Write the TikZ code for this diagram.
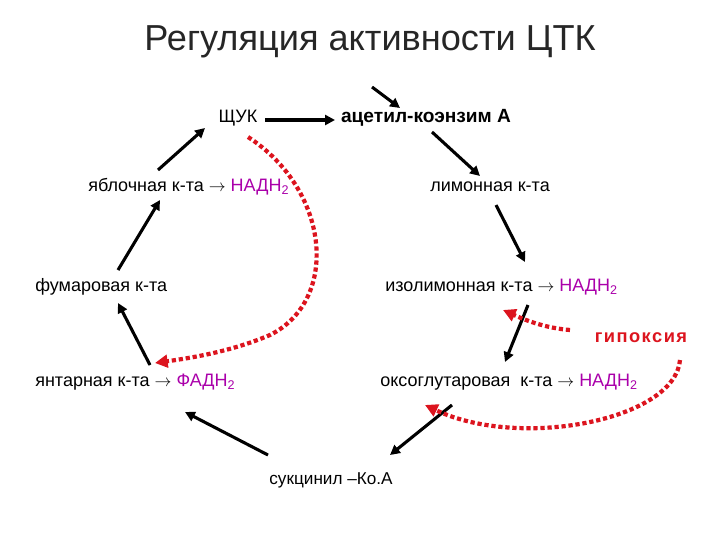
\documentclass[tikz,border=0pt]{standalone}
\usepackage{fontspec}
\setmainfont{Liberation Sans}
\usetikzlibrary{arrows.meta}
\definecolor{nadh}{RGB}{170,0,170}
\definecolor{hred}{RGB}{220,20,30}
\begin{document}
\begin{tikzpicture}[x=0.025cm,y=-0.025cm,
  lbl/.style={font=\fontsize{12.8}{14}\selectfont,inner sep=0pt},
  blk/.style={line width=2.2pt,-{Triangle[length=7pt,width=7pt]}},
  reddot/.style={hred,line width=3pt,dotted,-{Triangle[length=9pt,width=9pt]}}]
\useasboundingbox (0,0) rectangle (720,540);
\node[font=\fontsize{25.7}{29}\selectfont,text=black!85] (title) at (370,42) {Регуляция активности ЦТК};
\node[lbl] (shchuk) at (238,118) {ЩУК};
\node[lbl,font=\fontsize{13.6}{16}\selectfont\bfseries] (acetyl) at (426,118) {ацетил-коэнзим А};
\node[lbl,anchor=west] (malate) at (88,187) {яблочная к-та $\rightarrow$ \textcolor{nadh}{НАДН\textsubscript{2}}};
\node[lbl] (citrate) at (490,187) {лимонная к-та};
\node[lbl,anchor=west] (fumarate) at (35,287) {фумаровая к-та};
\node[lbl,anchor=west] (isocit) at (385,287) {изолимонная к-та $\rightarrow$ \textcolor{nadh}{НАДН\textsubscript{2}}};
\node[lbl,font=\fontsize{13}{15}\selectfont\bfseries,text=hred] (hyp) at (641,338) {г\kern1pt и\kern1pt п\kern1pt о\kern1pt к\kern1pt с\kern1pt и\kern1pt я};
\node[lbl,anchor=west] (succ) at (35,382) {янтарная к-та $\rightarrow$ \textcolor{nadh}{ФАДН\textsubscript{2}}};
\node[lbl,anchor=west] (oxo) at (380,382) {оксоглутаровая\ \ к-та $\rightarrow$ \textcolor{nadh}{НАДН\textsubscript{2}}};
\node[lbl,font=\fontsize{12.2}{14}\selectfont] (succoa) at (331,480) {сукцинил –Ко.А};
\coordinate (in) at (372,87);
\draw[blk] (265,120) -- (335,120);
\draw[blk] (in) -- (400,108);
\draw[blk] (432,132) -- (480,176);
\draw[blk] (496,205) -- (525,262);
\draw[blk] (528,305) -- (505,362);
\draw[blk] (452,405) -- (390,455);
\draw[blk] (268,455) -- (185,412);
\draw[blk] (150,365) -- (118,303);
\draw[blk] (118,270) -- (160,200);
\draw[blk] (158,170) -- (205,128);
\draw[reddot] (248,137) .. controls (330,190) and (340,300) .. (270,335) .. controls (230,352) and (190,358) .. (155,363);
\draw[reddot] (570,330) .. controls (545,328) and (525,320) .. (503,310);
\draw[reddot] (680,360) .. controls (675,420) and (520,450) .. (425,405);
\end{tikzpicture}
\end{document}
